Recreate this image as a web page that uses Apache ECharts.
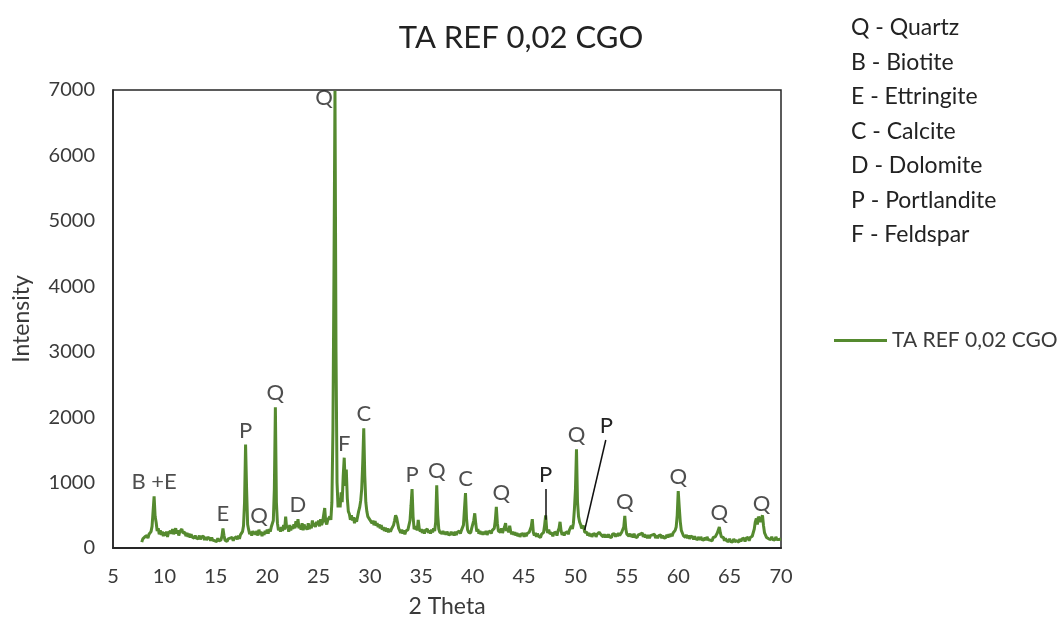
<!DOCTYPE html>
<html>
<head>
<meta charset="utf-8">
<title>TA REF 0,02 CGO</title>
<script src="https://cdn.jsdelivr.net/npm/echarts@6/dist/echarts.min.js"></script>
<style>
  html, body { margin: 0; padding: 0; background: #fff; }
  #chart { width: 1064px; height: 626px; }
</style>
</head>
<body>
<div id="chart"></div>
<script>
// XRD scan: 2θ from 7.8° in 0.1° steps
const thetaStart = 7.8;
const thetaStep = 0.1;

// Measured intensity, one row per degree of 2θ
const intensity = [
  90, 140,
  120, 170, 140, 190, 150, 210, 180, 250, 330, 560,          // 8
  790, 480, 390, 260, 300, 210, 270, 200, 250, 180,          // 9
  240, 190, 250, 170, 230, 200, 260, 220, 290, 210,          // 10
  260, 300, 220, 270, 190, 250, 220, 290, 230, 200,          // 11
  240, 180, 230, 170, 220, 160, 210, 170, 200, 150,          // 12
  190, 150, 180, 140, 190, 130, 170, 150, 180, 120,          // 13
  170, 120, 160, 130, 150, 110, 160, 120, 150, 110,          // 14
  140, 100, 150, 110, 140, 120, 180, 300, 190, 120,          // 15
  150, 100, 140, 110, 150, 120, 160, 110, 150, 130,          // 16
  170, 130, 190, 140, 200, 180, 250, 340, 700, 1580,         // 17
  900, 360, 280, 210, 250, 190, 260, 210, 250, 200,          // 18
  260, 190, 280, 210, 250, 180, 240, 200, 260, 220,          // 19
  280, 220, 290, 250, 320, 290, 420, 900, 2150, 700,         // 20
  380, 270, 310, 250, 320, 260, 350, 280, 480, 300,          // 21
  340, 250, 350, 270, 330, 290, 360, 300, 410, 320,          // 22
  440, 300, 350, 280, 380, 270, 360, 290, 330, 280,          // 23
  380, 290, 350, 300, 420, 330, 380, 320, 400, 350,          // 24
  420, 330, 440, 350, 400, 380, 610, 400, 360, 430,          // 25
  400, 480, 430, 700, 1800, 4200, 6990, 3000, 1000, 620,     // 26
  760, 620, 850, 700, 1100, 1380, 950, 1200, 760, 560,       // 27
  520, 430, 500, 420, 470, 380, 460, 400, 480, 560,          // 28
  620, 720, 900, 1300, 1830, 1100, 700, 560, 480, 500,       // 29
  430, 460, 380, 420, 350, 410, 340, 380, 320, 360,          // 30
  300, 350, 280, 320, 260, 310, 250, 300, 240, 290,          // 31
  250, 290, 280, 350, 420, 500, 460, 380, 300, 280,          // 32
  230, 280, 220, 270, 210, 260, 230, 280, 300, 420,          // 33
  650, 900, 480, 290, 260, 330, 270, 430, 300, 250,          // 34
  290, 230, 280, 220, 270, 240, 290, 230, 270, 220,          // 35
  280, 240, 300, 260, 400, 960, 500, 290, 240, 270,          // 36
  220, 260, 210, 250, 200, 250, 210, 240, 200, 250,          // 37
  200, 240, 190, 250, 200, 240, 210, 260, 220, 270,          // 38
  250, 350, 600, 840, 450, 280, 240, 270, 230, 300,          // 39
  330, 420, 530, 370, 250, 290, 220, 260, 210, 250,          // 40
  200, 250, 210, 260, 200, 240, 210, 260, 220, 270,          // 41
  240, 300, 420, 630, 380, 260, 290, 240, 300, 230,          // 42
  280, 320, 380, 260, 300, 240, 340, 250, 210, 250,          // 43
  200, 240, 190, 230, 180, 220, 170, 210, 180, 220,          // 44
  170, 230, 180, 220, 190, 240, 260, 330, 440, 240,          // 45
  190, 230, 170, 220, 180, 210, 160, 210, 180, 240,          // 46
  350, 500, 290, 230, 280, 220, 190, 230, 180, 230,          // 47
  200, 240, 190, 260, 300, 400, 260, 200, 240, 190,          // 48
  230, 200, 250, 210, 270, 240, 340, 290, 380, 600,          // 49
  900, 1510, 700, 480, 400, 360, 300, 280, 340, 240,         // 50
  210, 240, 190, 230, 180, 220, 170, 210, 180, 220,          // 51
  170, 210, 180, 240, 250, 200, 220, 170, 210, 160,          // 52
  200, 160, 210, 170, 200, 160, 210, 180, 220, 170,          // 53
  220, 180, 230, 190, 220, 240, 260, 320, 490, 290,          // 54
  210, 240, 180, 220, 170, 210, 160, 220, 170, 200,          // 55
  160, 200, 170, 210, 180, 230, 170, 210, 160, 200,          // 56
  150, 200, 150, 190, 160, 200, 170, 210, 150, 190,          // 57
  150, 190, 160, 200, 150, 190, 150, 180, 160, 200,          // 58
  160, 210, 170, 220, 180, 230, 220, 270, 320, 500,          // 59
  870, 620, 400, 270, 230, 190, 210, 160, 200, 150,          // 60
  190, 140, 180, 150, 170, 130, 180, 140, 170, 130,          // 61
  170, 120, 170, 130, 160, 120, 160, 120, 170, 130,          // 62
  160, 120, 150, 110, 160, 130, 170, 180, 230, 260,          // 63
  320, 230, 170, 140, 160, 110, 150, 110, 140, 100,          // 64
  140, 100, 130, 90, 140, 100, 130, 110, 140, 90,            // 65
  140, 100, 140, 110, 150, 100, 150, 120, 160, 110,          // 66
  160, 130, 180, 200, 290, 400, 450, 360, 480, 500,          // 67
  400, 460, 500, 340, 230, 210, 160, 190, 140, 170,          // 68
  130, 170, 130, 160, 120, 170, 130, 160, 130, 150,          // 69
  140                                                        // 70
];

// Phase letters placed over their peaks (2θ of the peak)
const peakLabels = [
  ['B +E', 9.0], ['E', 15.7], ['P', 17.9], ['Q', 19.2], ['Q', 20.8],
  ['D', 23.0], ['Q', 26.6], ['F', 27.5], ['C', 29.4], ['P', 34.1],
  ['Q', 36.5], ['C', 39.3], ['Q', 42.3], ['Q', 50.1], ['Q', 54.8],
  ['Q', 60.0], ['Q', 64.0], ['Q', 68.1]
];

// Phase letters joined to their peak by a leader line: [text, [2θ, I] at peak, [2θ, I] at label]
const leaderLabels = [
  ['P', [47.1, 430], [47.1, 900]],
  ['P', [50.9, 275], [52.95, 1650]]
];

// Phase key
const phaseKey = [
  'Q - Quartz', 'B - Biotite', 'E - Ettringite', 'C - Calcite',
  'D - Dolomite', 'P - Portlandite', 'F - Feldspar'
];

const seriesName = 'TA REF 0,02 CGO';
const xTicks = { min: 5, max: 70, interval: 5 };
const yTicks = { min: 0, max: 7000, interval: 1000 };

// ---- build the chart ----
const FONT = 'Lato, "Open Sans", sans-serif';
const TEXT = '#3a3a3a';
const DARK = '#222222';
const LINE = '#558a2f';

const points = intensity.map((v, i) => [+(thetaStart + i * thetaStep).toFixed(1), v]);
const valueAt = t => intensity[Math.round((t - thetaStart) / thetaStep)];

// per-label nudges (px) so letters sit clear of neighbouring peaks
const labelNudge = { 6: [-11, 21], 12: [5, 0] };

const labelData = peakLabels.map(([txt, t], i) => ({
  name: txt,
  value: [t, valueAt(t)],
  label: { offset: labelNudge[i] || [0, 0] }
}));

const chart = echarts.init(document.getElementById('chart'), null, { renderer: 'canvas' });

chart.setOption({
  backgroundColor: '#ffffff',
  animation: false,
  textStyle: { fontFamily: FONT },
  title: {
    text: seriesName,
    left: 516,
    textAlign: 'center',
    top: 17,
    textStyle: { fontFamily: FONT, fontSize: 31, fontWeight: 'normal', color: DARK }
  },
  legend: {
    data: [seriesName],
    left: 829,
    top: 325,
    icon: 'rect',
    itemWidth: 53,
    itemHeight: 3,
    itemGap: 8,
    textStyle: { fontFamily: FONT, fontSize: 21, color: TEXT }
  },
  grid: {
    left: 113, right: 283, top: 90, bottom: 78,
    show: true,
    borderColor: '#262626',
    borderWidth: 1.5,
    containLabel: false
  },
  xAxis: {
    type: 'value',
    min: xTicks.min, max: xTicks.max, interval: xTicks.interval,
    name: '2 Theta',
    nameLocation: 'middle',
    nameGap: 47,
    nameTextStyle: { fontFamily: FONT, fontSize: 23, color: TEXT },
    axisLine: { show: true, lineStyle: { color: '#262626', width: 2 } },
    axisTick: { show: false },
    splitLine: { show: false },
    axisLabel: { margin: 19, fontFamily: FONT, fontSize: 20, color: TEXT, formatter: v => String(v) }
  },
  yAxis: {
    type: 'value',
    min: yTicks.min, max: yTicks.max, interval: yTicks.interval,
    name: 'Intensity',
    nameLocation: 'middle',
    nameGap: 80,
    nameTextStyle: { fontFamily: FONT, fontSize: 23, color: TEXT },
    axisLine: { show: true, lineStyle: { color: '#262626', width: 1.5 } },
    axisTick: { show: false },
    splitLine: { show: false },
    axisLabel: { margin: 18, fontFamily: FONT, fontSize: 20, color: TEXT, formatter: v => String(v) }
  },
  series: [
    {
      name: seriesName,
      type: 'line',
      data: points,
      showSymbol: false,
      symbol: 'none',
      sampling: 'none',
      lineStyle: { color: LINE, width: 3 },
      itemStyle: { color: LINE },
      markLine: {
        silent: true,
        symbol: ['none', 'none'],
        lineStyle: { color: '#111', width: 1.5, type: 'solid' },
        label: {
          show: true,
          position: 'end',
          distance: 3,
          formatter: p => p.name,
          fontFamily: FONT, fontSize: 22, color: DARK
        },
        data: leaderLabels.map(([txt, a, b]) => [
          { name: txt, coord: a },
          { coord: b }
        ])
      }
    },
    {
      name: 'phase labels',
      type: 'scatter',
      data: labelData,
      symbolSize: 0,
      silent: true,
      z: 5,
      label: {
        show: true,
        position: 'top',
        distance: 3,
        formatter: p => p.name,
        fontFamily: FONT, fontSize: 22, color: DARK
      }
    }
  ],
  graphic: phaseKey.map((txt, i) => ({
    type: 'text',
    x: 851,
    y: 28 + i * 34.5,
    style: { text: txt, font: '23px ' + FONT, fill: DARK, verticalAlign: 'middle' }
  }))
});
</script>
</body>
</html>
